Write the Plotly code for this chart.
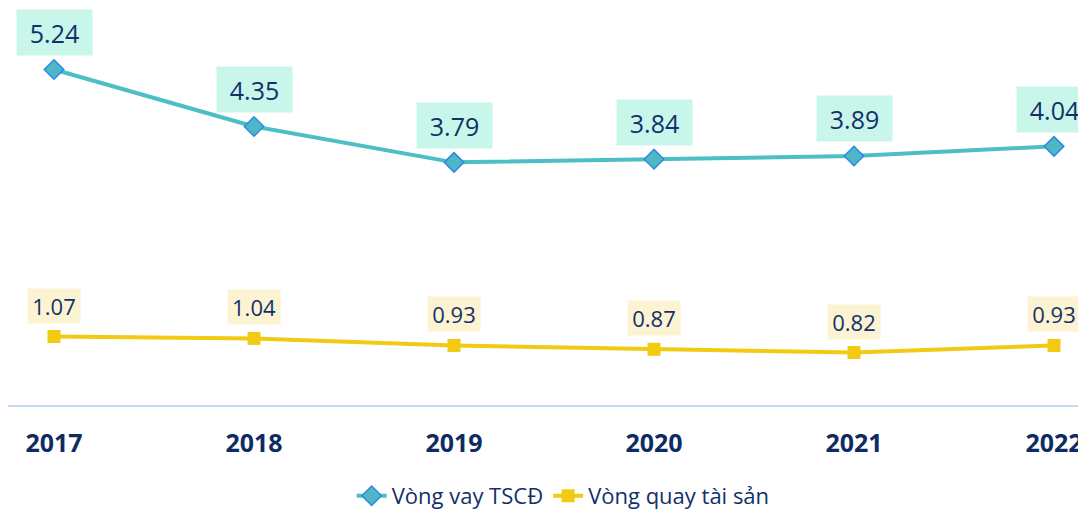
import plotly.graph_objects as go

years = ['2017', '2018', '2019', '2020', '2021', '2022']
vong_vay_tscd = [5.24, 4.35, 3.79, 3.84, 3.89, 4.04]
vong_quay_ts = [1.07, 1.04, 0.93, 0.87, 0.82, 0.93]

navy = '#13306A'
teal = '#4BBFC4'
yellow = '#F3CA12'

fig = go.Figure()

fig.add_trace(go.Scatter(
    x=years, y=vong_vay_tscd, name='Vòng vay TSCĐ', mode='lines+markers',
    line=dict(color=teal, width=4),
    marker=dict(symbol='diamond', size=15, color='#4FB6C6',
                line=dict(color='#2E88E6', width=1.5)),
))
fig.add_trace(go.Scatter(
    x=years, y=vong_quay_ts, name='Vòng quay tài sản', mode='lines+markers',
    line=dict(color=yellow, width=4),
    marker=dict(symbol='square', size=13, color=yellow),
))

# data labels with coloured boxes (category index as x position)
for i, v in enumerate(vong_vay_tscd):
    fig.add_annotation(x=i, y=v, xref='x', yref='y', text=f'{v:.2f}',
                       showarrow=False, yshift=37, width=73, height=43,
                       bgcolor='#C9F6EA',
                       font=dict(size=25, color=navy))
for i, v in enumerate(vong_quay_ts):
    fig.add_annotation(x=i, y=v, xref='x', yref='y', text=f'{v:.2f}',
                       showarrow=False, yshift=31, width=50, height=32,
                       bgcolor='#FCF3D2',
                       font=dict(size=22, color=navy))

fig.update_xaxes(type='category', range=[-0.23, 5.16], showgrid=False, showline=True,
                 linecolor='#C6D9F5', linewidth=2, ticks='outside', ticklen=15,
                 tickcolor='rgba(0,0,0,0)', automargin=False,
                 tickvals=years, ticktext=['<b>' + y + '</b>' for y in years],
                 tickfont=dict(size=25, color='#0F2B63'))
fig.update_yaxes(range=[0, 6.17], visible=False, showgrid=False, zeroline=False)

fig.update_layout(
    width=1078, height=509,
    margin=dict(l=0, r=0, t=2, b=112),
    plot_bgcolor='white', paper_bgcolor='white',
    font=dict(family='Open Sans', color=navy),
    showlegend=True,
    legend=dict(orientation='h', x=0.515, xanchor='center', y=-0.2835, yanchor='bottom',
                font=dict(size=22, color=navy)),
)

fig.write_html('out.html')
